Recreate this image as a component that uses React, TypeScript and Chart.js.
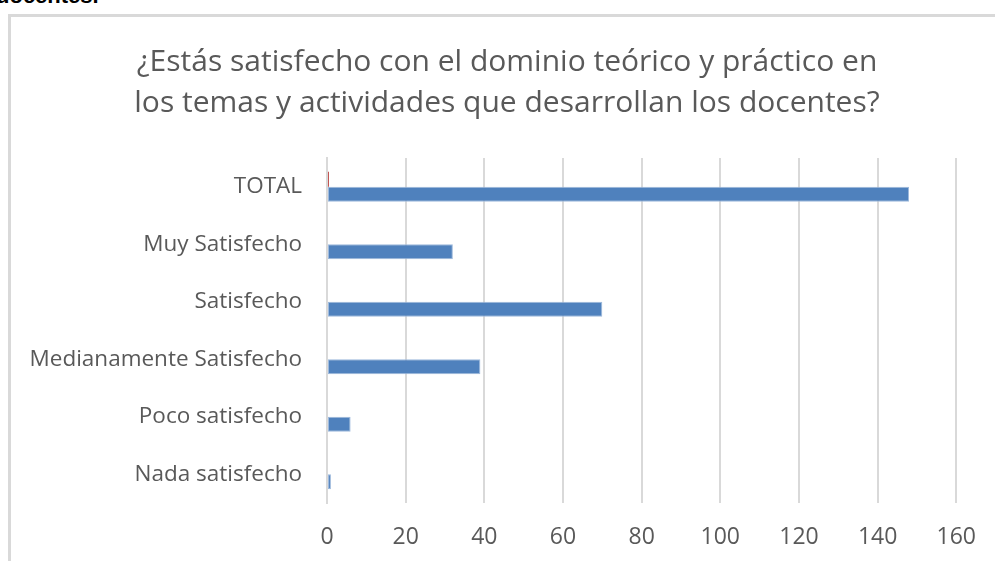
import React, { useEffect, useRef } from "react";
import { Chart, registerables } from "chart.js";

Chart.register(...registerables);

const categories = [
  "TOTAL",
  "Muy Satisfecho",
  "Satisfecho",
  "Medianamente Satisfecho",
  "Poco satisfecho",
  "Nada satisfecho",
];
const seriesRed = [0.5, 0, 0, 0, 0, 0];
const seriesBlue = [148, 32, 70, 39, 6, 1];
const titleLines = [
  "¿Estás satisfecho con el dominio teórico y práctico en",
  "los temas y actividades que desarrollan los docentes?",
];
const xMin = 0;
const xMax = 160;
const xStep = 20;

const FONT = "'Open Sans', 'Noto Sans', sans-serif";

export default function App() {
  const ref = useRef<HTMLCanvasElement | null>(null);
  useEffect(() => {
    if (!ref.current) return;
    const chart = new Chart(ref.current, {
      type: "bar",
      data: {
        labels: categories,
        datasets: [
          {
            label: "Serie 2",
            data: seriesRed,
            backgroundColor: "#C0504D",
            borderWidth: 0,
            categoryPercentage: 0.52,
            barPercentage: 1,
          },
          {
            label: "Serie 1",
            data: seriesBlue,
            backgroundColor: "#4F81BD",
            borderColor: "#9DB9DC",
            borderWidth: 1,
            borderSkipped: false,
            categoryPercentage: 0.52,
            barPercentage: 1,
          },
        ],
      },
      options: {
        indexAxis: "y",
        responsive: false,
        animation: false,
        layout: { padding: { left: 20, right: 1, top: 0, bottom: 0 } },
        plugins: {
          legend: { display: false },
          tooltip: { enabled: false },
          title: {
            display: true,
            text: titleLines,
            color: "#595959",
            font: { family: FONT, size: 30, weight: "normal", lineHeight: "41px" },
            padding: { top: 41.5, bottom: 34.5 },
          },
        },
        scales: {
          x: {
            min: xMin,
            max: xMax,
            afterFit: (scale: any) => {
              scale.height = 58;
            },
            ticks: {
              stepSize: xStep,
              color: "#595959",
              font: { family: FONT, size: 23, lineHeight: "30px" },
              padding: 19,
            },
            grid: { color: "#D9D9D9", lineWidth: 2, drawTicks: false },
            border: { display: false },
          },
          y: {
            afterFit: (scale: any) => {
              scale.width = 307;
            },
            ticks: {
              color: "#595959",
              font: { family: FONT, size: 22.5 },
              padding: 25,
            },
            grid: { display: false, drawTicks: false },
            border: { display: true, color: "#D9D9D9", width: 2 },
          },
        },
      },
    });
    return () => chart.destroy();
  }, []);

  return (
    <div style={{ position: "absolute", left: 0, top: 0, width: 995, height: 561, overflow: "hidden", background: "#fff" }}>
      <div
        style={{
          position: "absolute",
          left: -4,
          top: -15,
          fontFamily: "'Liberation Sans', Arial, sans-serif",
          fontWeight: "bold",
          fontSize: 22,
          lineHeight: "22px",
          color: "#000",
          whiteSpace: "nowrap",
        }}
      >
        docentes.
      </div>
      <div
        style={{
          position: "absolute",
          left: 8,
          top: 14,
          width: 1100,
          height: 700,
          borderLeft: "3px solid #D9D9D9",
          borderTop: "3px solid #D9D9D9",
        }}
      />
      <canvas ref={ref} width={995} height={561} style={{ position: "absolute", left: 0, top: 0 }} />
    </div>
  );
}
